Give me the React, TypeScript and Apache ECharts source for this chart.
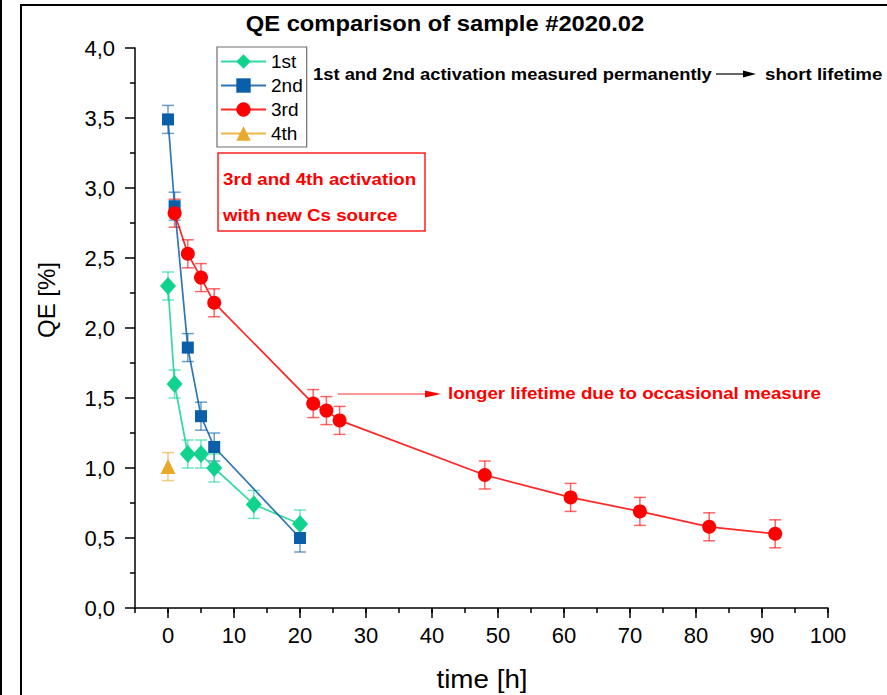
import React, { useEffect, useRef } from "react";
import * as echarts from "echarts";

// ---- data ----
const t1 = [0, 1, 3, 5, 7, 13, 20];
const qe1 = [2.3, 1.6, 1.1, 1.1, 1.0, 0.74, 0.6];
const err1 = [0.1, 0.1, 0.1, 0.1, 0.1, 0.1, 0.1];

const t2 = [0, 1, 3, 5, 7, 20];
const qe2 = [3.49, 2.87, 1.86, 1.37, 1.15, 0.5];
const err2 = [0.1, 0.1, 0.1, 0.1, 0.1, 0.1];

const t3 = [1, 3, 5, 7, 22, 24, 26, 48, 61, 71.5, 82, 92];
const qe3 = [2.82, 2.53, 2.36, 2.18, 1.46, 1.41, 1.34, 0.95, 0.79, 0.69, 0.58, 0.53];
const err3 = [0.1, 0.1, 0.1, 0.1, 0.1, 0.1, 0.1, 0.1, 0.1, 0.1, 0.1, 0.1];

const t4 = [0];
const qe4 = [1.01];
const err4 = [0.1];

const xTickValues = [0, 10, 20, 30, 40, 50, 60, 70, 80, 90, 100];
const seriesNames = ["1st", "2nd", "3rd", "4th"];

const FONT = "Arial, 'Liberation Sans', Helvetica, sans-serif";

const colors = {
  g: "#10d38e",
  b: "#0b5ea8",
  r: "#ff0000",
  o: "#e8a92c",
};

function pts(t: number[], v: number[]) {
  return t.map((x, i) => [x, v[i]]);
}
function errPts(t: number[], v: number[], e: number[]) {
  return t.map((x, i) => [x, v[i], e[i]]);
}

function errSeries(name: string, data: number[][], color: string) {
  return {
    type: "custom",
    name,
    xAxisIndex: 0,
    yAxisIndex: 0,
    z: 1,
    silent: true,
    data,
    renderItem: (params: any, api: any) => {
      const x = api.value(0);
      const y = api.value(1);
      const e = api.value(2);
      const top = api.coord([x, y + e]);
      const bot = api.coord([x, y - e]);
      const hw = 6;
      const style = { stroke: color, lineWidth: 1.5, opacity: 0.6 };
      return {
        type: "group",
        children: [
          { type: "line", shape: { x1: top[0], y1: top[1], x2: bot[0], y2: bot[1] }, style },
          { type: "line", shape: { x1: top[0] - hw, y1: top[1], x2: top[0] + hw, y2: top[1] }, style },
          { type: "line", shape: { x1: bot[0] - hw, y1: bot[1], x2: bot[0] + hw, y2: bot[1] }, style },
        ],
      };
    },
  };
}

function lineSeries(name: string, data: number[][], color: string, symbol: string, size: any) {
  return {
    type: "line",
    name,
    xAxisIndex: 0,
    yAxisIndex: 0,
    z: 3,
    data,
    symbol,
    symbolSize: size,
    showAllSymbol: true,
    itemStyle: { color },
    lineStyle: { color, width: 1.7, opacity: 0.85 },
  };
}

function label(text: string, x: number, y: number, size: number, sx: number, color: string, bold = true) {
  return {
    type: "text",
    z: 100,
    x,
    y,
    scaleX: sx,
    style: {
      text,
      fontFamily: FONT,
      fontSize: size,
      fontWeight: bold ? "bold" : "normal",
      fill: color,
      textVerticalAlign: "middle",
    },
  };
}

export default function App() {
  const ref = useRef<HTMLDivElement>(null);
  useEffect(() => {
    if (!ref.current) return;
    const chart = echarts.init(ref.current, null, { renderer: "svg" });
    const axisBlack = { color: "#000", width: 1.5 };
    const option: any = {
      animation: false,
      backgroundColor: "#fff",
      legend: {
        orient: "vertical",
        left: 217,
        top: 47,
        padding: [5, 4, 4, 3],
        itemWidth: 45,
        itemHeight: 18,
        itemGap: 5,
        borderColor: "#6e6e6e",
        borderWidth: 1.2,
        data: seriesNames,
        textStyle: { fontFamily: FONT, fontSize: 19, color: "#000" },
      },
      grid: { left: 135, right: 59, top: 48, bottom: 87, containLabel: false },
      xAxis: [
        {
          type: "value",
          min: -5,
          max: 100,
          interval: 5,
          position: "bottom",
          axisLine: { show: true, onZero: false, lineStyle: axisBlack },
          axisTick: { show: true, length: 5, lineStyle: axisBlack },
          axisLabel: {
            show: true,
            customValues: xTickValues,
            margin: 16,
            fontFamily: FONT,
            fontSize: 22,
            color: "#000",
          },
          splitLine: { show: false },
        },
        {
          type: "value",
          min: -5,
          max: 100,
          position: "bottom",
          axisLine: { show: false, onZero: false },
          axisTick: { show: true, length: 10, customValues: xTickValues, lineStyle: axisBlack },
          axisLabel: { show: false },
          splitLine: { show: false },
        },
      ],
      yAxis: {
        type: "value",
        min: 0,
        max: 4,
        interval: 0.5,
        axisLine: { show: true, onZero: false, lineStyle: axisBlack },
        axisTick: { show: true, length: 10, lineStyle: axisBlack },
        minorTick: { show: true, splitNumber: 2, length: 5, lineStyle: axisBlack },
        axisLabel: {
          margin: 20,
          fontFamily: FONT,
          fontSize: 22,
          color: "#000",
          formatter: (v: number) => v.toFixed(1).replace(".", ","),
        },
        splitLine: { show: false },
        minorSplitLine: { show: false },
      },
      series: [
        errSeries("e1", errPts(t1, qe1, err1), colors.g),
        errSeries("e2", errPts(t2, qe2, err2), colors.b),
        errSeries("e3", errPts(t3, qe3, err3), colors.r),
        errSeries("e4", errPts(t4, qe4, err4), colors.o),
        lineSeries(seriesNames[0], pts(t1, qe1), colors.g, "diamond", [16, 18]),
        lineSeries(seriesNames[1], pts(t2, qe2), colors.b, "rect", 12),
        lineSeries(seriesNames[2], pts(t3, qe3), colors.r, "circle", 14),
        lineSeries(seriesNames[3], pts(t4, qe4), colors.o, "triangle", 15),
      ],
      graphic: [
        // outer frame
        { type: "rect", z: 100, shape: { x: 21, y: 5, width: 900, height: 800 }, style: { fill: "none", stroke: "#000", lineWidth: 2 } },
        { type: "line", z: 100, shape: { x1: 1, y1: 0, x2: 1, y2: 695 }, style: { stroke: "#000", lineWidth: 2 } },
        // title
        {
          type: "text",
          z: 100,
          x: 445,
          y: 23,
          scaleX: 1.08,
          style: {
            text: "QE comparison of sample #2020.02",
            fontFamily: FONT,
            fontSize: 22,
            fontWeight: "bold",
            fill: "#000",
            textAlign: "center",
            textVerticalAlign: "middle",
          },
        },
        // axis names
        {
          type: "text",
          z: 100,
          x: 46,
          y: 300,
          rotation: Math.PI / 2,
          style: { text: "QE [%]", fontFamily: FONT, fontSize: 24, fill: "#000", textAlign: "center", textVerticalAlign: "middle" },
        },
        {
          type: "text",
          z: 100,
          x: 482,
          y: 679,
          scaleX: 1.07,
          style: { text: "time [h]", fontFamily: FONT, fontSize: 26, fill: "#000", textAlign: "center", textVerticalAlign: "middle" },
        },
        // top annotation
        label("1st and 2nd activation measured permanently", 313, 74, 17, 1.08, "#000"),
        { type: "line", z: 100, shape: { x1: 716, y1: 74, x2: 746, y2: 74 }, style: { stroke: "#000", lineWidth: 1.2 } },
        { type: "polygon", z: 100, shape: { points: [[743, 70.5], [756, 74], [743, 77.5]] }, style: { fill: "#000" } },
        label("short lifetime", 765, 74, 17, 1.1, "#000"),
        // red box
        { type: "rect", z: 100, shape: { x: 218, y: 153, width: 207, height: 78 }, style: { fill: "none", stroke: "#ff2020", lineWidth: 1.5 } },
        label("3rd and 4th activation", 223, 179, 17, 1.1, "#ff0000"),
        label("with new Cs source", 223, 215, 17, 1.1, "#ff0000"),
        // red arrow + annotation
        { type: "line", z: 100, shape: { x1: 338, y1: 394, x2: 428, y2: 394 }, style: { stroke: "#ff3030", lineWidth: 1.2 } },
        { type: "polygon", z: 100, shape: { points: [[425, 390.5], [441, 394], [425, 397.5]] }, style: { fill: "#ff0000" } },
        label("longer lifetime due to occasional measure", 448, 393, 17, 1.1, "#ff0000"),
      ],
    };
    chart.setOption(option);
    return () => chart.dispose();
  }, []);
  return <div ref={ref} style={{ position: "absolute", left: 0, top: 0, width: 887, height: 695 }} />;
}
